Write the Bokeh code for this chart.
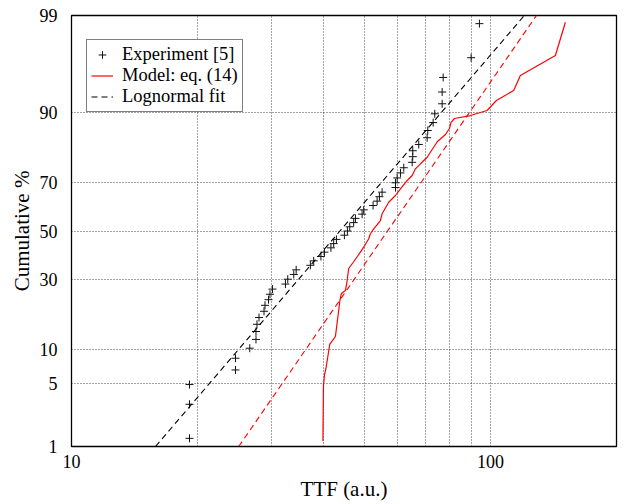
from statistics import NormalDist
from bokeh.plotting import figure
from bokeh.models import (Range1d, FixedTicker, PrintfTickFormatter, Legend,
                          LegendItem)
from bokeh.embed import file_html
from bokeh.resources import INLINE

# ---------------- data ----------------
exp_ttf = [19.13, 19.13, 19.13, 24.63, 24.63, 26.64, 27.57, 27.57, 27.72, 28.03,
           28.81, 28.97, 29.53, 29.77, 30.18, 32.41, 32.83, 33.93, 34.38, 37.18,
           37.86, 39.39, 40.16, 41.62, 42.26, 42.90, 44.82, 45.57, 46.15, 47.17,
           47.62, 49.40, 49.84, 52.48, 53.65, 54.33, 55.14, 59.35, 59.35, 59.90,
           61.00, 62.12, 65.05, 65.26, 65.26, 67.45, 70.64, 70.87, 73.00, 73.65,
           76.71, 76.71, 77.13, 89.94, 94.14]
exp_cum = [1.26, 3.07, 4.87, 6.68, 8.48, 10.29, 12.09, 13.90, 15.70, 17.51,
           19.31, 21.12, 22.92, 24.73, 26.53, 28.34, 30.14, 31.95, 33.75, 35.56,
           37.36, 39.17, 40.97, 42.78, 44.58, 46.39, 48.19, 50.00, 51.81, 53.61,
           55.42, 57.22, 59.03, 60.83, 62.64, 64.44, 66.25, 68.05, 69.86, 71.66,
           73.47, 75.27, 77.08, 78.88, 80.69, 82.49, 84.30, 86.10, 87.91, 89.71,
           91.52, 93.32, 95.13, 96.93, 98.74]

model_ttf = [39.83, 39.94, 40.16, 40.50, 41.34, 42.66, 43.73, 44.09, 45.07, 45.44,
             45.89, 47.02, 48.14, 49.84, 51.23, 51.71, 52.66, 54.63, 55.14, 57.18,
             59.35, 61.00, 63.29, 65.05, 66.22, 68.09, 70.64, 72.60, 74.75, 78.11,
             79.85, 80.51, 82.07, 89.60, 98.20, 103.35, 113.65, 117.91, 142.94, 151.01]
model_cum = [1.17, 4.66, 5.94, 6.89, 11.03, 12.74, 22.66, 25.00, 26.04, 28.92,
             34.28, 36.69, 39.16, 43.06, 46.65, 48.80, 50.95, 54.51, 57.36, 62.20,
             64.92, 67.56, 70.72, 72.54, 74.90, 76.59, 78.71, 81.05, 83.30, 85.12,
             86.57, 87.92, 88.77, 89.37, 90.33, 92.05, 93.53, 95.34, 97.09, 98.79]

fit_ttf = [15.87, 120.5]
fit_cum = [1, 99]
model_fit_ttf = [25.07, 128.8]
model_fit_cum = [1, 99]

y_tick_pcts = [1, 5, 10, 30, 50, 70, 90, 99]
y_grid_pcts = [5, 10, 30, 50, 70, 90]
x_tick_values = [10, 100]
x_grid_values = [20, 30, 40, 50, 60, 70, 80, 90, 100]

# ---------------- probability (probit) transform ----------------
nd = NormalDist()
def probit(pcts):
    return [nd.inv_cdf(v / 100.0) for v in pcts]

FONT = "Liberation Serif"

p = figure(width=625, height=504, x_axis_type="log",
           x_range=Range1d(10, 200),
           y_range=Range1d(nd.inv_cdf(0.01), nd.inv_cdf(0.99)),
           output_backend="svg", toolbar_location=None,
           min_border_left=71, min_border_right=9,
           min_border_top=15, min_border_bottom=58)
p.background_fill_color = "white"
p.border_fill_color = "white"
p.outline_line_color = "black"
p.outline_line_width = 1.3
p.outline_line_alpha = 1

# grids
p.xgrid.ticker = FixedTicker(ticks=x_grid_values)
p.ygrid.ticker = FixedTicker(ticks=probit(y_grid_pcts))
for g in (p.xgrid, p.ygrid):
    g.grid_line_color = "#333333"
    g.grid_line_dash = "1 2"
    g.grid_line_width = 1
    g.grid_line_alpha = 0.9

# x axis
p.xaxis.ticker = FixedTicker(ticks=x_tick_values, minor_ticks=[])
p.xaxis.formatter = PrintfTickFormatter(format="%d")
p.xaxis.axis_label = "TTF (a.u.)"
p.xaxis.major_label_standoff = 2
p.xaxis.axis_label_standoff = 6

# y axis
yt = probit(y_tick_pcts)
p.yaxis.ticker = FixedTicker(ticks=yt, minor_ticks=[])
p.yaxis.major_label_overrides = {t: str(v) for t, v in zip(yt, y_tick_pcts)}
p.yaxis.axis_label = "Cumulative %"
p.yaxis.major_label_standoff = 8
p.yaxis.axis_label_standoff = 3

for ax in (p.xaxis, p.yaxis):
    ax.major_tick_line_color = None
    ax.minor_tick_line_color = None
    ax.axis_line_color = "black"
    ax.major_label_text_font = FONT
    ax.major_label_text_font_size = "18px"
    ax.major_label_text_color = "black"
    ax.axis_label_text_font = FONT
    ax.axis_label_text_font_size = "21px"
    ax.axis_label_text_font_style = "normal"
    ax.axis_label_text_color = "black"

# ---------------- glyphs ----------------
r_exp = p.scatter(exp_ttf, probit(exp_cum), marker="cross", size=8,
                  line_color="#111111", line_width=1)
r_model = p.line(model_ttf, probit(model_cum), line_color="#ff0000", line_width=1.2)
r_fit = p.line(fit_ttf, probit(fit_cum), line_color="black", line_width=1.1,
               line_dash="6 4")
r_mfit = p.line(model_fit_ttf, probit(model_fit_cum), line_color="#ff0000",
                line_width=1.1, line_dash="6 4")

legend = Legend(items=[
    LegendItem(label="Experiment [5]", renderers=[r_exp]),
    LegendItem(label="Model: eq. (14)", renderers=[r_model]),
    LegendItem(label="Lognormal fit", renderers=[r_fit]),
], location=(15, 334))
legend.label_text_font = FONT
legend.label_text_font_size = "18.5px"
legend.label_text_color = "black"
legend.border_line_color = "black"
legend.border_line_width = 1
legend.background_fill_color = "white"
legend.background_fill_alpha = 1
legend.padding = 4
legend.spacing = 0
legend.margin = 0
legend.glyph_width = 22
legend.glyph_height = 19
legend.label_height = 19
legend.label_standoff = 9
p.add_layout(legend)

open("out.html", "w").write(file_html(p, INLINE))
